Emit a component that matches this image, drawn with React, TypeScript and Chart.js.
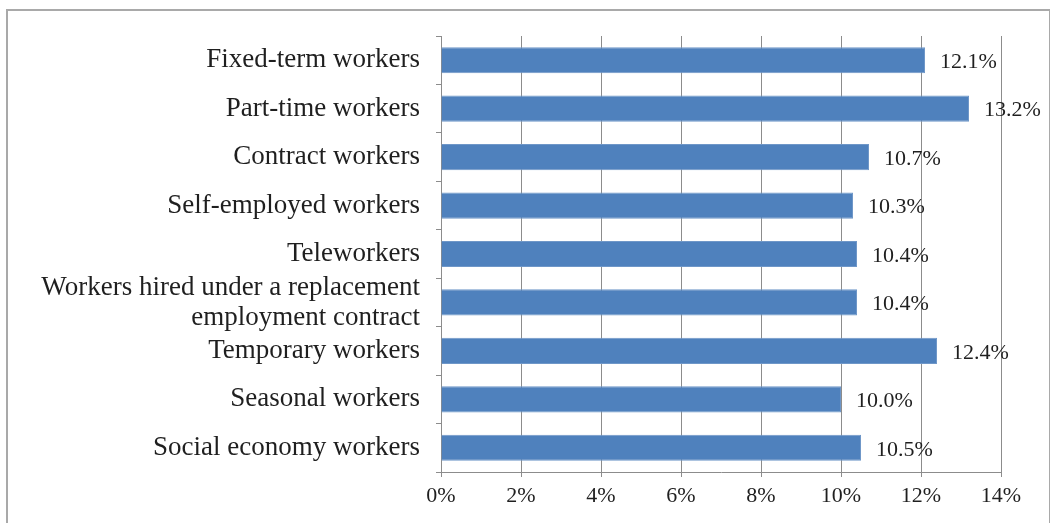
import { useEffect, useRef } from "react";
import { Chart, registerables } from "chart.js";

Chart.register(...registerables);

const categories: (string | string[])[] = [
  "Fixed-term workers",
  "Part-time workers",
  "Contract workers",
  "Self-employed workers",
  "Teleworkers",
  ["Workers hired under a replacement", "employment contract"],
  "Temporary workers",
  "Seasonal workers",
  "Social economy workers",
];
const values = [12.1, 13.2, 10.7, 10.3, 10.4, 10.4, 12.4, 10.0, 10.5];
const xMin = 0;
const xMax = 14;
const xStep = 2;

const FONT = "'Liberation Serif', 'Times New Roman', serif";

const valueLabels = {
  id: "valueLabels",
  afterDatasetsDraw(chart: Chart) {
    const ctx = chart.ctx;
    const meta = chart.getDatasetMeta(0);
    ctx.save();
    ctx.font = `22px ${FONT}`;
    ctx.fillStyle = "#1f1f1f";
    ctx.textAlign = "left";
    ctx.textBaseline = "middle";
    meta.data.forEach((bar: any, i: number) => {
      ctx.fillText(`${values[i].toFixed(1)}%`, bar.x + 15, bar.y + 2);
    });
    ctx.restore();
  },
};

export default function App() {
  const canvasRef = useRef<HTMLCanvasElement>(null);
  const chartRef = useRef<Chart | null>(null);

  useEffect(() => {
    if (!canvasRef.current) return;
    chartRef.current?.destroy();

    chartRef.current = new Chart(canvasRef.current, {
      type: "bar",
      data: {
        labels: categories,
        datasets: [
          {
            data: values,
            backgroundColor: "#4f81bd",
            borderColor: "#6f97c8",
            borderWidth: 1,
            categoryPercentage: 1,
            barPercentage: 0.54,
          },
        ],
      },
      options: {
        indexAxis: "y",
        animation: false,
        responsive: false,
        maintainAspectRatio: false,
        layout: { padding: { top: 36, right: 49, left: 0, bottom: 0 } },
        plugins: {
          legend: { display: false },
          tooltip: { enabled: false },
        },
        scales: {
          x: {
            min: xMin,
            max: xMax,
            afterFit: (scale: any) => {
              scale.height = 51;
            },
            ticks: {
              stepSize: xStep,
              callback: (v) => `${v}%`,
              font: { family: FONT, size: 22 },
              color: "#1f1f1f",
              padding: 6,
            },
            grid: {
              color: "#8c8c8c",
              lineWidth: 1,
              tickLength: 5,
            },
            border: { color: "#8c8c8c", width: 1 },
          },
          y: {
            afterFit: (scale: any) => {
              scale.width = 441;
            },
            ticks: {
              autoSkip: false,
              font: { family: FONT, size: 27, lineHeight: 30 / 27 },
              color: "#1f1f1f",
              padding: 16,
            },
            grid: {
              offset: true,
              drawOnChartArea: false,
              drawTicks: true,
              tickLength: 5,
              color: "#8c8c8c",
            },
            border: { color: "#8c8c8c", width: 1 },
          },
        },
      },
      plugins: [valueLabels],
    });

    return () => {
      chartRef.current?.destroy();
      chartRef.current = null;
    };
  }, []);

  return (
    <div
      style={{
        position: "fixed",
        left: 0,
        top: 0,
        width: 1050,
        height: 523,
        overflow: "hidden",
        background: "#fff",
      }}
    >
      <div
        style={{
          position: "absolute",
          left: 6,
          top: 9,
          width: 1041,
          height: 600,
          border: "2px solid #a9a9a9",
        }}
      />
      <canvas
        ref={canvasRef}
        width={1050}
        height={523}
        style={{ position: "absolute", left: 0, top: 0, width: 1050, height: 523 }}
      />
    </div>
  );
}
